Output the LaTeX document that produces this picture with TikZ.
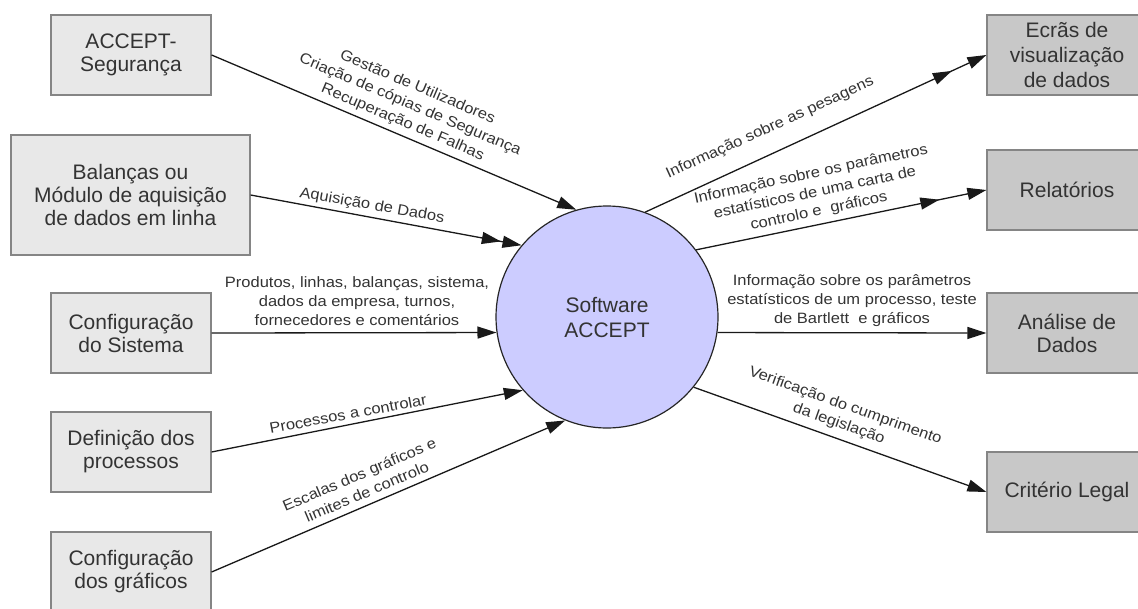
\documentclass[tikz,border=0pt]{standalone}
\usepackage{fontspec}
\setmainfont{Liberation Sans}
\newfontfamily\lblfont[FakeStretch=1.1]{Liberation Sans}
\usetikzlibrary{arrows.meta,decorations.markings}
\definecolor{txt}{HTML}{333333}
\definecolor{lbox}{HTML}{E8E8E8}
\definecolor{rbox}{HTML}{C8C8C8}
\definecolor{bord}{HTML}{858585}
\definecolor{circfill}{HTML}{CCCCFF}
\begin{document}
\begin{tikzpicture}[x=1pt,y=-1pt,
  lboxst/.style={draw=bord, line width=1.2pt, fill=lbox, minimum width=160pt, minimum height=80pt, inner sep=0pt, align=center, font=\fontsize{21}{23}\selectfont, text=txt},
  rboxst/.style={lboxst, fill=rbox},
  lbl/.style={font=\lblfont\fontsize{15}{19}\selectfont, text=txt, align=center, inner sep=0pt},
  conn/.style={line width=1.3pt, draw=black!90, -{Triangle[length=19pt,width=12pt]}},
  midhead/.style={postaction={decorate}, decoration={markings, mark=at position #1 with {\arrow{Triangle[length=19pt,width=12pt]}}}}
]
\useasboundingbox (0,0) rectangle (1138,608);
\clip (0,0) rectangle (1138,608);

% left boxes
\node[lboxst] (segu) at (131,55) {ACCEPT-\\Segurança};
\node[lboxst, minimum width=239pt, minimum height=120pt] (bal) at (130.5,195) {Balanças ou\\Módulo de aquisição\\de dados em linha};
\node[lboxst] (csis) at (131,333) {Configuração\\do Sistema};
\node[lboxst] (defp) at (131,452) {Definição dos\\processos};
\node[lboxst] (cgra) at (131,572) {Configuração\\dos gráficos};

% right boxes
\node[rboxst, font=\fontsize{21}{25}\selectfont] (ecra) at (1067,55) {Ecrãs de\\visualização\\de dados};
\node[rboxst] (rel) at (1067,190) {Relatórios};
\node[rboxst] (anal) at (1067,333) {Análise de\\Dados};
\node[rboxst] (crit) at (1067,492) {Critério Legal};

% centre
\node[circle, draw=black!85, line width=1.2pt, fill=circfill, minimum size=222pt, inner sep=0pt, align=center, text=txt, font=\fontsize{21}{25}\selectfont] (circ) at (607,317) {Software\\ACCEPT};

% connectors
\draw[conn] (segu.east) -- (circ.106);
\draw[conn, midhead=-21pt] (bal.east) -- (circ.140);
\draw[conn] (csis.east) -- (circ.188);
\draw[conn] (defp.east) -- (circ.221);
\draw[conn] (cgra.east) -- (circ.248);
\draw[conn, midhead=-38pt] (circ.70) -- (ecra.west);
\draw[conn, midhead=-48pt] (circ.37.5) -- (rel.west);
\draw[conn] (circ.352) -- (anal.west);
\draw[conn] (circ.321) -- (crit.west);

% labels
\node[lbl, rotate=-23] (l1) at (410,105) {Gestão de Utilizadores\\Criação de cópias de Segurança\\Recuperação de Falhas};
\node[lbl, rotate=-10] (l2) at (372,206) {Aquisição de Dados};
\node[lbl] (l3) at (357,301) {Produtos, linhas, balanças, sistema,\\dados da empresa, turnos,\\fornecedores e comentários};
\node[lbl, rotate=10.5] (l4) at (348,414) {Processos a controlar};
\node[lbl, rotate=23] (l5) at (363,483) {Escalas dos gráficos e\\limites de controlo};
\node[lbl, rotate=24.5] (l6) at (770,128) {Informação sobre as pesagens};
\node[lbl, rotate=12] (l7) at (815,193) {Informação sobre os parâmetros\\estatísticos de uma carta de\\controlo e\ \ gráficos};
\node[lbl] (l8) at (852,301) {Informação sobre os parâmetros\\estatísticos de um processo, teste\\de Bartlett\ \ e gráficos};
\node[lbl, rotate=-19.6] (l9) at (842,415) {Verificação do cumprimento\\da legislação};
\end{tikzpicture}
\end{document}
